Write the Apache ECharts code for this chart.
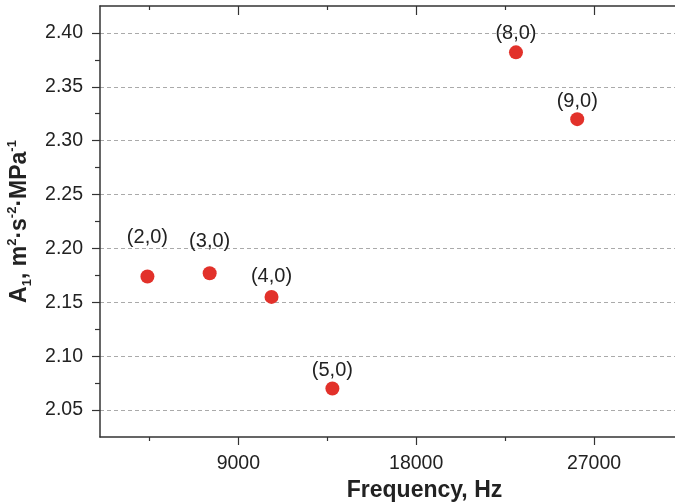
<!DOCTYPE html>
<html>
<head>
<meta charset="utf-8">
<script src="https://cdn.jsdelivr.net/npm/echarts@6/dist/echarts.min.js"></script>
<style>html,body{margin:0;padding:0;background:#fff;}#c{width:675px;height:503px;}</style>
</head>
<body>
<div id="c"></div>
<script>
// ---- data ----
const modes = ['(2,0)', '(3,0)', '(4,0)', '(5,0)', '(8,0)', '(9,0)'];
const frequency = [4400, 7550, 10680, 13760, 23050, 26150];
const a1 = [2.174, 2.177, 2.155, 2.070, 2.382, 2.320];
const xTicks = [9000, 18000, 27000];
const xMinorTicks = [4500, 13500, 22500];
const yTicks = [2.05, 2.10, 2.15, 2.20, 2.25, 2.30, 2.35, 2.40];
const yMinorTicks = [2.075, 2.125, 2.175, 2.225, 2.275, 2.325, 2.375];

// ---- style ----
const labelGap = [22, 15, 3, 1, 2, 1];
const FONT = '"Liberation Sans", Arial, Helvetica, sans-serif';
const AX = '#333';
const xRange = {min: 2000, max: 31300};
const yRange = {min: 2.025, max: 2.425};

const chart = echarts.init(document.getElementById('c'));

function xAx(pos, ticks, len, inside, extra) {
  return Object.assign({
    type: 'value', position: pos, min: xRange.min, max: xRange.max,
    axisLine: {show: false},
    axisTick: {show: true, customValues: ticks, length: len, inside: inside, lineStyle: {color: AX, width: 1.2}},
    axisLabel: {show: false},
    splitLine: {show: false}
  }, extra || {});
}
function yAx(pos, ticks, len, inside, extra) {
  return Object.assign({
    type: 'value', position: pos, min: yRange.min, max: yRange.max,
    axisLine: {show: false},
    axisTick: {show: true, customValues: ticks, length: len, inside: inside, lineStyle: {color: AX, width: 1.2}},
    axisLabel: {show: false},
    splitLine: {show: false}
  }, extra || {});
}

const option = {
  animation: false,
  backgroundColor: '#fff',
  grid: {left: 100, top: 6, right: -4, bottom: 66, containLabel: false, outerBoundsMode: 'none'},
  xAxis: [
    xAx('bottom', xTicks, 8, false, {
      axisLine: {show: true, onZero: false, lineStyle: {color: AX, width: 1.5}},
      axisLabel: {show: true, customValues: xTicks, margin: 17, fontSize: 19.5, color: '#222', fontFamily: FONT,
        formatter: v => String(v)},
      name: 'Frequency, Hz', nameLocation: 'middle', nameGap: 40,
      nameTextStyle: {fontSize: 23, fontWeight: 'bold', color: '#222', fontFamily: FONT, padding: [0, 0, 0, 70]}
    }),
    xAx('bottom', xMinorTicks, 4, false),
    xAx('top', xTicks, 9, true, {axisLine: {show: true, onZero: false, lineStyle: {color: AX, width: 1.5}}}),
    xAx('top', xMinorTicks, 4, true)
  ],
  yAxis: [
    yAx('left', yTicks, 8, false, {
      axisLine: {show: true, onZero: false, lineStyle: {color: AX, width: 1.5}},
      axisLabel: {show: true, customValues: yTicks, margin: 17, fontSize: 19.5, color: '#222', fontFamily: FONT,
        formatter: v => v.toFixed(2)},
      splitLine: {show: true, lineStyle: {color: '#aaa', type: [4, 3], width: 1}},
      name: '{b|A}{bsub|1}{b|, m}{bsup|2}{b|·s}{bsup|-2}{b|·MPa}{bsup|-1}',
      nameLocation: 'middle', nameGap: 66, nameRotate: 90,
      nameTextStyle: {
        fontFamily: FONT, color: '#222',
        rich: {
          b: {fontSize: 23, fontWeight: 'bold', fontFamily: FONT, color: '#222', lineHeight: 28},
          bsup: {fontSize: 13, fontWeight: 'bold', fontFamily: FONT, color: '#222', lineHeight: 13, verticalAlign: 'top'},
          bsub: {fontSize: 13, fontWeight: 'bold', fontFamily: FONT, color: '#222', lineHeight: 13, verticalAlign: 'bottom'}
        }
      }
    }),
    yAx('left', yMinorTicks, 5, false),
    yAx('right', yTicks, 3, true, {axisLine: {show: true, onZero: false, lineStyle: {color: AX, width: 1.5}}})
  ],
  series: [{
    type: 'scatter',
    xAxisIndex: 0, yAxisIndex: 0,
    symbolSize: 14,
    itemStyle: {color: '#e2312a', opacity: 1},
    data: frequency.map((f, i) => ({
      value: [f, a1[i]],
      name: modes[i],
      label: {distance: labelGap[i]}
    })),
    label: {show: true, position: 'top', formatter: p => p.name, fontSize: 20, color: '#222', fontFamily: FONT}
  }]
};
chart.setOption(option);
</script>
</body>
</html>
